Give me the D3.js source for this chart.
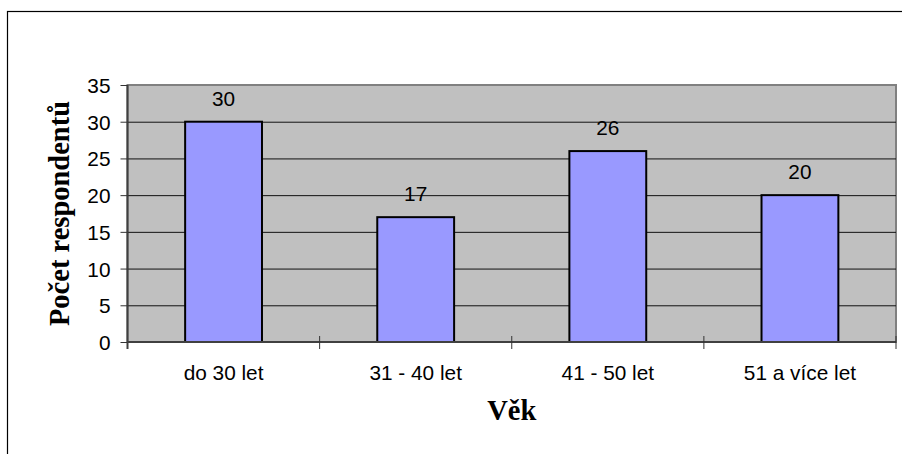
<!DOCTYPE html>
<html>
<head>
  <script src="https://cdnjs.cloudflare.com/ajax/libs/d3/7.8.5/d3.min.js"></script>
  <style>
    body { margin: 0; background: #fff; }
    .tick-label { font-family: "Liberation Sans", Arial, sans-serif; font-size: 20.8px; fill: #000; }
    .axis-title { font-family: "Liberation Serif", "Times New Roman", serif; font-size: 28.5px; font-weight: bold; fill: #000; }
    .grid-line { stroke: #111; stroke-width: 1; }
    .bar { fill: #9999ff; stroke: #000; stroke-width: 2; }
  </style>
</head>
<body>
  <div id="chart"></div>
  <script>
    // Data
    const categories = ["do 30 let", "31 - 40 let", "41 - 50 let", "51 a více let"];
    const counts = [30, 17, 26, 20];
    const yTicks = [0, 5, 10, 15, 20, 25, 30, 35];

    const W = 902, H = 454;
    const plot = {left: 127.5, right: 896, top: 85, bottom: 342};

    const svg = d3.select("#chart")
      .append("svg")
        .attr("width", W)
        .attr("height", H);

    // Outer chart border (runs off the right and bottom edges)
    svg.append("rect")
      .attr("x", 7.5)
      .attr("y", 11.5)
      .attr("width", 920)
      .attr("height", 460)
      .attr("fill", "#fff")
      .attr("stroke", "#000")
      .attr("stroke-width", 1.2);

    // Scales
    const x = d3.scaleBand()
      .domain(categories)
      .range([plot.left, plot.right])
      .paddingInner(0.6)
      .paddingOuter(0.3);

    const xSlot = d3.scaleBand()
      .domain(categories)
      .range([plot.left, plot.right])
      .padding(0);

    const y = d3.scaleLinear()
      .domain([0, 35])
      .range([plot.bottom, plot.top]);

    // Plot background
    svg.append("rect")
      .attr("x", plot.left)
      .attr("y", plot.top)
      .attr("width", plot.right - plot.left)
      .attr("height", plot.bottom - plot.top)
      .attr("fill", "#c0c0c0")
      .attr("stroke", "#808080")
      .attr("stroke-width", 2);

    // Horizontal grid lines
    svg.selectAll(".grid-line")
      .data(yTicks.filter(d => d > 0 && d < 35))
      .join("line")
        .attr("class", "grid-line")
        .attr("x1", plot.left)
        .attr("x2", plot.right)
        .attr("y1", d => y(d) + 0.5)
        .attr("y2", d => y(d) + 0.5);

    // Bars
    svg.selectAll(".bar")
      .data(counts)
      .join("rect")
        .attr("class", "bar")
        .attr("x", (d, i) => x(categories[i]))
        .attr("y", d => y(d))
        .attr("width", x.bandwidth())
        .attr("height", d => y(0) - y(d));

    // Value labels
    svg.selectAll(".value-label")
      .data(counts)
      .join("text")
        .attr("class", "tick-label value-label")
        .attr("x", (d, i) => x(categories[i]) + x.bandwidth() / 2)
        .attr("y", d => y(d) - 16)
        .attr("text-anchor", "middle")
        .text(d => d);

    // Y axis
    const yAxis = svg.append("g")
      .attr("transform", `translate(${plot.left},0)`)
      .call(d3.axisLeft(y).tickValues(yTicks).tickSize(7).tickPadding(10));
    yAxis.select(".domain").attr("stroke", "#404040").attr("stroke-width", 2).attr("d", `M0,${plot.top}V${plot.bottom + 7}`);
    yAxis.selectAll(".tick line").attr("stroke", "#333").attr("x2", -7);
    yAxis.selectAll(".tick text").attr("class", "tick-label").attr("dy", "0.36em");

    // X axis line and boundary ticks
    svg.append("line")
      .attr("x1", plot.left)
      .attr("x2", plot.right)
      .attr("y1", plot.bottom)
      .attr("y2", plot.bottom)
      .attr("stroke", "#404040")
      .attr("stroke-width", 2);

    const boundaries = categories.map(c => xSlot(c)).concat([plot.right]).slice(1);
    svg.selectAll(".x-tick")
      .data(boundaries)
      .join("line")
        .attr("class", "x-tick")
        .attr("x1", d => d)
        .attr("x2", d => d)
        .attr("y1", plot.bottom - 6)
        .attr("y2", plot.bottom + 7)
        .attr("stroke", "#333")
        .attr("stroke-width", 1);

    // Category labels
    svg.selectAll(".cat-label")
      .data(categories)
      .join("text")
        .attr("class", "tick-label cat-label")
        .attr("x", d => x(d) + x.bandwidth() / 2)
        .attr("y", 380)
        .attr("text-anchor", "middle")
        .text(d => d);

    // Axis titles
    svg.append("text")
      .attr("class", "axis-title")
      .attr("x", (plot.left + plot.right) / 2)
      .attr("y", 420)
      .attr("text-anchor", "middle")
      .text("Věk");

    svg.append("text")
      .attr("class", "axis-title")
      .attr("transform", `translate(69,${(plot.top + plot.bottom) / 2}) rotate(-90)`)
      .attr("text-anchor", "middle")
      .text("Počet respondentů");
  </script>
</body>
</html>
